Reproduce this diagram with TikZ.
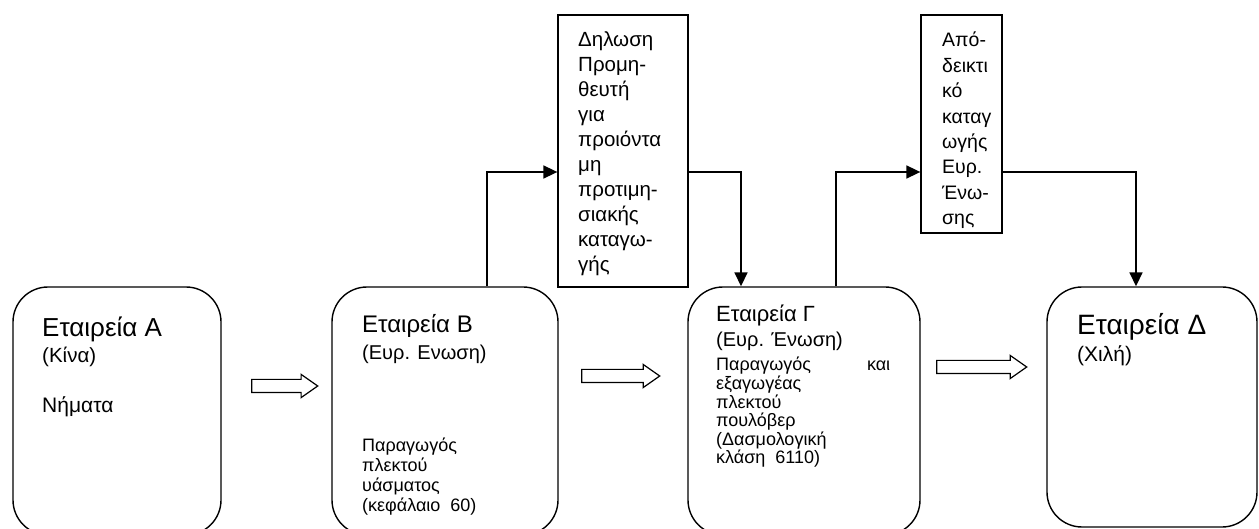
\documentclass[tikz,border=0pt]{standalone}
\usepackage{fontspec}
\setmainfont{Liberation Sans}
\usetikzlibrary{arrows.meta,shapes.arrows}
\newcommand{\setsize}[2]{\fontsize{#1}{#2}\selectfont}

\begin{document}
\begin{tikzpicture}[x=1pt, y=-1pt,
  firm/.style={draw, line width=1.4pt, rounded corners=35pt, inner sep=0pt},
  paper/.style={draw, line width=1.3pt, inner sep=0pt},
  txt/.style={anchor=base west, inner sep=0pt},
  flow/.style={line width=1.7pt, -{Triangle[length=14pt,width=13pt]}},
  fatarrow/.style={draw, line width=1.2pt, single arrow, single arrow head extend=5pt,
    single arrow tip angle=70, minimum height=66pt, inner xsep=0pt, inner ysep=6pt,
    text height=0pt, text depth=0pt}]
\useasboundingbox (0,0) rectangle (1259,529);

% the four companies
\node[firm, minimum width=208pt, minimum height=248pt] (a) at (117,411) {};
\node[firm, minimum width=226pt, minimum height=248pt] (b) at (445,411) {};
\node[firm, minimum width=232pt, minimum height=248pt] (c) at (804,411) {};
\node[firm, minimum width=210pt, minimum height=240pt] (d) at (1152,407) {};

% documents
\node[paper, minimum width=130pt, minimum height=272pt] (decl) at (623,151) {};
\node[paper, minimum width=81pt, minimum height=218pt] (cert) at (961.5,124) {};

\node[txt] (atxt) at (42,337) {\parbox[t]{160pt}{%
  {\setsize{26}{26}Εταιρεία Α\par}
  {\setsize{20.5}{26}(Κίνα)\par}
  {\setsize{21}{50}Νήματα\par}}};
\node[txt] (btxt) at (362,333) {\parbox[t]{180pt}{%
  {\setsize{24}{24}Εταιρεία Β\par}
  {\setsize{20}{27}(Ευρ. Ενωση)\par}
  {\setsize{18}{20}\vspace{72pt}Παραγωγός\\ πλεκτού\\ υάσματος\\ (κεφάλαιο~~60)\par}}};
\node[txt] (ctxt) at (716,322) {\parbox[t]{174pt}{%
  {\setsize{22}{22}Εταιρεία Γ\par}
  {\setsize{20}{25}(Ευρ. Ένωση)\par}
  {\setsize{18}{18.6}\vspace{5.4pt}Παραγωγός\hfill και\\ εξαγωγέας\\ πλεκτού\\ πουλόβερ\\
    (Δασμολογική\\ κλάση~~6110)\par}}};
\node[txt] (dtxt) at (1077,335) {\parbox[t]{170pt}{%
  {\setsize{28}{28}Εταιρεία Δ\par}
  {\setsize{21}{27}(Χιλή)\par}}};

\node[txt] (decltxt) at (578,47) {\parbox[t]{108pt}{\setsize{20.5}{25}%
  Δηλωση\\ Προμη-\\ θευτή\\ για\\ προιόντα\\ μη\\ προτιμη-\\ σιακής\\ καταγω-\\ γής}};
\node[txt] (certtxt) at (942,47) {\parbox[t]{60pt}{\setsize{19.5}{25.4}%
  Από-\\ δεικτι\\ κό\\ καταγ\\ ωγής\\ Ευρ.\\ Ένω-\\ σης}};

% goods
\node[fatarrow] (ab) at (280,386) {};
\node[fatarrow, minimum height=78pt] (bc) at (616,376) {};
\node[fatarrow, minimum height=90pt] (cd) at (977,367) {};

% papers
\draw[flow] ([xshift=42pt]b.north) |- ([yshift=-21pt]decl.west);
\draw[flow] ([yshift=-21pt]decl.east) -| ([xshift=-63pt]c.north);
\draw[flow] ([xshift=32pt]c.north) |- ([yshift=-48pt]cert.west);
\draw[flow] ([yshift=-48pt]cert.east) -| ([xshift=-16pt]d.north);
\end{tikzpicture}
\end{document}
